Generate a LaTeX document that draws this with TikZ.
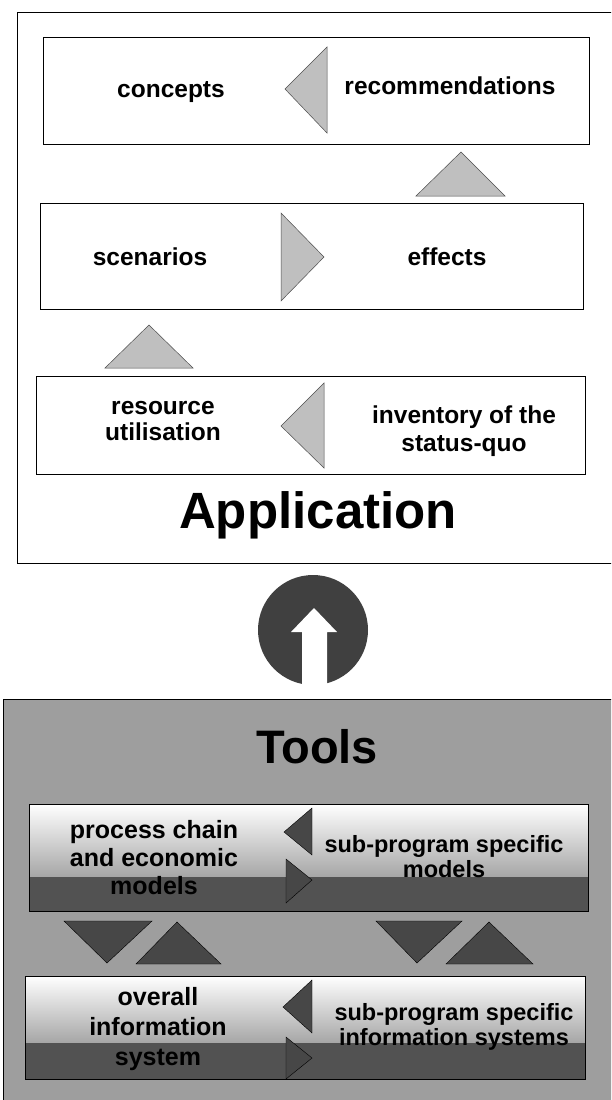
\documentclass[tikz,border=0pt]{standalone}
\usepackage{fontspec}
\setmainfont{Liberation Sans}

\begin{document}
\begin{tikzpicture}[x=1pt,y=-1pt,
    stage/.style={draw=black, line width=0.8pt},
    txt/.style={font=\fontsize{24.5}{27}\selectfont\bfseries, align=center},
    apparrow/.style={draw=black!70, line width=0.5pt, fill=black!25},
    toolarrow/.style={fill=black!72},
    band/.style={fill=black!68}]
        \useasboundingbox (0,0) rectangle (611,1100);
        \clip (0,0) rectangle (611,1100);

        % Application frame (open to the right)
        \draw[line width=1pt] (620,12) -- (17,12) -- (17,563) -- (620,563);

        % concepts <- recommendations
        \draw[stage] (43,37) rectangle (589,144);
        \node[txt] (concepts) at (171,92) {concepts};
        \node[txt] (recom) at (450,86) {recommendations};
        \draw[apparrow] (285,89) -- (327,47) -- (327,133) -- cycle;

        % up from effects
        \draw[apparrow] (416,196) -- (461,152) -- (505,196) -- cycle;

        % scenarios -> effects
        \draw[stage] (40,203) rectangle (583,309);
        \node[txt] (scen) at (150,257) {scenarios};
        \node[txt] (effects) at (447,257) {effects};
        \draw[apparrow] (281,213) -- (324,257) -- (281,301) -- cycle;

        % up from resource utilisation
        \draw[apparrow] (105,368) -- (149,325) -- (193,368) -- cycle;

        % resource utilisation <- inventory
        \draw[stage] (36,376) rectangle (585,474);
        \node[txt, font=\fontsize{24.5}{26}\selectfont\bfseries] (resource) at (163,421) {resource\\utilisation};
        \node[txt, font=\fontsize{24.5}{28}\selectfont\bfseries] (inventory) at (464,431) {inventory of the\\status-quo};
        \draw[apparrow] (281,426) -- (324,383) -- (324,468) -- cycle;

        \node[font=\fontsize{51}{51}\selectfont\bfseries] (application) at (318,515) {Application};

        % Round arrow up
        \fill[black!75] (313,630) circle (55);
        \fill[white] (302,690) -- (302,632) -- (291,632) -- (314,608)
            -- (337,632) -- (327,632) -- (327,690) -- cycle;

        % Tools frame
        \fill[black!38] (3,699) rectangle (620,1110);
        \draw[line width=1pt] (620,699) -- (3,699) -- (3,1110);
        \node[font=\fontsize{47}{47}\selectfont\bfseries] (tools) at (317,747) {Tools};

        % models box
        \shade[top color=white, bottom color=black!35] (29,804) rectangle (588,877);
        \fill[band] (29,877) rectangle (588,911);
        \draw[stage] (29,804) rectangle (588,911);
        \node[txt, font=\fontsize{25}{28}\selectfont\bfseries] (chain) at (154,858) {process chain\\and economic\\models};
        \node[txt, font=\fontsize{23.5}{25}\selectfont\bfseries] (submodels) at (444,857) {sub-program specific\\models};
        \draw[toolarrow] (284,832) -- (312,808) -- (312,855) -- cycle;
        \draw[toolarrow] (286,859) -- (312,880) -- (286,903) -- cycle;

        % down / up pairs
        \draw[toolarrow] (64,921) -- (152,921) -- (107,963) -- cycle;
        \draw[toolarrow] (136,964) -- (177,922) -- (221,964) -- cycle;
        \draw[toolarrow] (376,921) -- (462,921) -- (417,963) -- cycle;
        \draw[toolarrow] (446,964) -- (489,922) -- (533,964) -- cycle;

        % information systems box
        \shade[top color=white, bottom color=black!35] (25,976) rectangle (585,1043);
        \fill[band] (25,1043) rectangle (585,1079);
        \draw[stage] (25,976) rectangle (585,1079);
        \node[txt, font=\fontsize{25}{30}\selectfont\bfseries] (overall) at (158,1029) {overall\\information\\system};
        \node[txt, font=\fontsize{23.5}{25}\selectfont\bfseries] (subinfo) at (454,1027) {sub-program specific\\information systems};
        \draw[toolarrow] (283,1007) -- (312,980) -- (312,1033) -- cycle;
        \draw[toolarrow] (286,1037) -- (312,1058) -- (286,1079) -- cycle;

\end{tikzpicture}
\end{document}
